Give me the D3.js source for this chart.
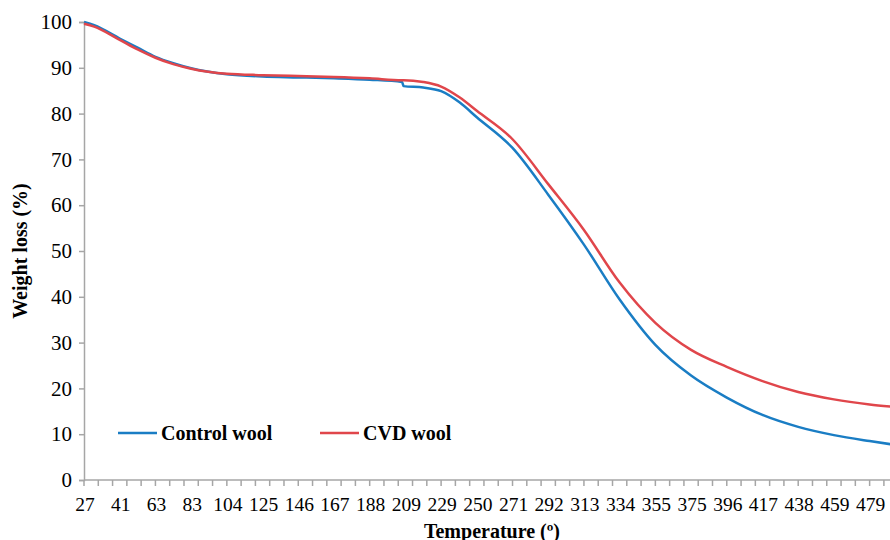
<!DOCTYPE html>
<html>
<head>
<meta charset="UTF-8">
<title>TGA wool</title>
<script src="https://cdn.jsdelivr.net/npm/d3@7"></script>
<style>
  body { margin: 0; background: #fff; }
  text { font-family: "Liberation Serif", "Times New Roman", serif; fill: #000; }
</style>
</head>
<body>
<script>
// category labels on the x axis (evenly spaced in the original)
var tempLabels = [27, 41, 63, 83, 104, 125, 146, 167, 188, 209, 229, 250, 271, 292, 313, 334, 355, 375, 396, 417, 438, 459, 479];
var yTicks = [0, 10, 20, 30, 40, 50, 60, 70, 80, 90, 100];

var temps   = [27, 31, 41, 52, 63, 73, 83, 104, 125, 146, 167, 188, 207, 208, 219, 229, 240, 250, 271, 292, 313, 334, 355, 375, 396, 417, 438, 459, 479, 491];
var control = [100, 99.3, 96.4, 94.4, 92.4, 91.0, 89.9, 88.6, 88.1, 87.9, 87.7, 87.4, 86.9, 86.0, 85.7, 84.9, 82.4, 79.2, 72.5, 62.3, 51.4, 39.4, 29.5, 22.8, 18.0, 14.2, 11.6, 9.8, 8.5, 7.8];
var cvd     = [99.6, 99.0, 96.1, 94.0, 92.2, 90.8, 89.8, 88.7, 88.4, 88.2, 88.0, 87.7, 87.3, 87.3, 86.9, 85.9, 83.5, 80.6, 74.4, 64.6, 54.6, 43.1, 34.3, 28.4, 24.7, 21.6, 19.2, 17.6, 16.5, 16.0];

var w = 890, h = 540;
var mLeft = 84, mTop = 22, mBottom = 480;
var step = 35.71;   // px between two labels
var axisCol = "#a6a6a6";

var svg = d3.select("body").append("svg")
    .attr("width", w).attr("height", h);

// piecewise x scale: each label sits at its own slot
var x = d3.scaleLinear()
    .domain(tempLabels.concat([499]))
    .range(tempLabels.map(function(d, i) { return mLeft + i * step; }).concat([mLeft + 23 * step]));

var y = d3.scaleLinear().domain([0, 100]).range([mBottom, mTop]);

// y axis
var yAxis = svg.append("g")
    .attr("transform", "translate(" + mLeft + ",0)")
    .call(d3.axisLeft(y).tickValues(yTicks).tickSize(5).tickPadding(7));
yAxis.select(".domain").attr("stroke", axisCol).attr("stroke-width", 1.5);
yAxis.selectAll(".tick line").attr("stroke", axisCol).attr("stroke-width", 1.5);
yAxis.selectAll(".tick text").style("font-size", "21px").attr("font-family", null);

// x axis: small ticks every 2/5 of a label step, labels every step
var idx = d3.scaleLinear().domain([0, 23]).range([mLeft, mLeft + 23 * step]);
var minor = d3.range(0, 23, 0.4);
var xAxis = svg.append("g").attr("transform", "translate(0," + mBottom + ")");
xAxis.append("line")
    .attr("x1", mLeft).attr("x2", w)
    .attr("stroke", axisCol).attr("stroke-width", 1.5);
xAxis.selectAll("line.tk").data(minor).enter().append("line")
    .attr("class", "tk")
    .attr("x1", function(d) { return idx(d); })
    .attr("x2", function(d) { return idx(d); })
    .attr("y1", 0).attr("y2", 6)
    .attr("stroke", axisCol).attr("stroke-width", 1.5);
xAxis.selectAll("text").data(tempLabels).enter().append("text")
    .attr("x", function(d) { return x(d) + 1; })
    .attr("y", 31)
    .attr("text-anchor", "middle")
    .style("font-size", "19.5px")
    .text(function(d) { return d; });

// lines
var line = function(vals) {
  return d3.line()
    .x(function(d, i) { return x(temps[i]); })
    .y(function(d) { return y(d); })
    .curve(d3.curveMonotoneX)(vals);
};
svg.append("path").attr("d", line(control))
    .attr("fill", "none").attr("stroke", "#1a7dc4").attr("stroke-width", 2.5);
svg.append("path").attr("d", line(cvd))
    .attr("fill", "none").attr("stroke", "#e0464b").attr("stroke-width", 2.5);

// legend
var legend = [{name: "Control wool", col: "#1a7dc4", x: 118}, {name: "CVD wool", col: "#e0464b", x: 320}];
var lg = svg.selectAll("g.lg").data(legend).enter().append("g").attr("class", "lg");
lg.append("line")
    .attr("x1", function(d) { return d.x; }).attr("x2", function(d) { return d.x + 39; })
    .attr("y1", 433).attr("y2", 433)
    .attr("stroke", function(d) { return d.col; }).attr("stroke-width", 2.5);
lg.append("text")
    .attr("x", function(d) { return d.x + 43; }).attr("y", 440)
    .style("font-size", "20px").style("font-weight", "bold")
    .text(function(d) { return d.name; });

// titles
svg.append("text")
    .attr("x", 492).attr("y", 538)
    .attr("text-anchor", "middle")
    .style("font-size", "20px").style("font-weight", "bold")
    .text("Temperature (º)");
svg.append("text")
    .attr("transform", "translate(27,251) rotate(-90)")
    .attr("text-anchor", "middle")
    .style("font-size", "20px").style("font-weight", "bold")
    .text("Weight loss (%)");
</script>
</body>
</html>
